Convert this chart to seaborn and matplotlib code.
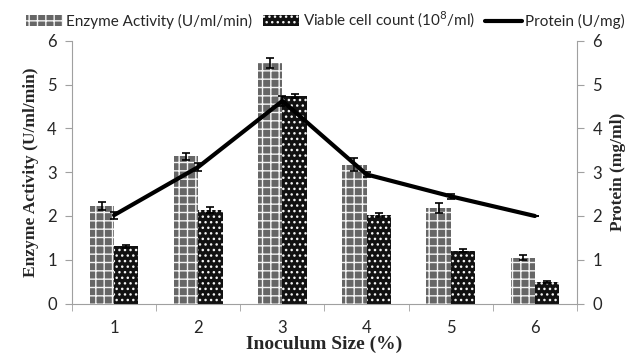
import numpy as np
import pandas as pd
import matplotlib
matplotlib.use("Agg")
import matplotlib.pyplot as plt
import seaborn as sns
from matplotlib.patches import Patch
from matplotlib.lines import Line2D

categories = ["1", "2", "3", "4", "5", "6"]
enzyme = [2.23, 3.36, 5.50, 3.17, 2.18, 1.05]
enzyme_err = [0.10, 0.08, 0.12, 0.15, 0.12, 0.05]
viable = [1.31, 2.14, 4.74, 2.02, 1.21, 0.49]
viable_err = [0.03, 0.06, 0.05, 0.05, 0.03, 0.03]
protein = [2.02, 3.12, 4.63, 2.95, 2.45, 2.00]
protein_err = [0.08, 0.10, 0.12, 0.06, 0.06, 0.0]

sns.set_style("white")
plt.rcParams['font.family'] = ['Lato', 'DejaVu Sans']
plt.rcParams['hatch.linewidth'] = 1.0

df = pd.DataFrame({
    "Inoculum": categories * 2,
    "value": enzyme + viable,
    "series": ["Enzyme"] * 6 + ["Viable"] * 6,
})

fig = plt.figure(figsize=(6.32, 3.56), dpi=100)
ax = fig.add_axes([72/632, 1 - 303.5/356, 505/632, 262.5/356])

colors = ["#666666", "#111111"]
hatches = ["++", "..."]

sns.barplot(data=df, x="Inoculum", y="value", hue="series", order=categories,
            hue_order=["Enzyme", "Viable"], palette=colors,
            width=0.58, gap=0, ax=ax, legend=False, errorbar=None,
            edgecolor="white", linewidth=0)

patches = [p for p in ax.patches]
for i, p in enumerate(patches[:12]):
    s = i // 6
    p.set_hatch(hatches[s])
    p.set_edgecolor("#f4f4f4")
    p.set_linewidth(0)

errs = enzyme_err + viable_err
vals = enzyme + viable
for i, p in enumerate(patches[:12]):
    cx = p.get_x() + p.get_width() / 2
    ax.errorbar(cx, vals[i], yerr=errs[i], color="black", capsize=3,
                elinewidth=1.2, capthick=1.2, zorder=5)

ax.set_ylim(0, 6)
ax.set_xlim(-0.5, 5.5)
ax.set_yticks(range(7))
ax.set_xticks(range(6))
ax.set_xticklabels(categories)
ax.set_xticks(np.arange(-0.5, 6, 1), minor=True)
ax.tick_params(axis="x", which="major", length=0, pad=12, labelsize=12)
ax.tick_params(axis="x", which="minor", length=5, color="#a0a0a0", direction="out", bottom=True)
ax.tick_params(axis="y", length=5, color="#a0a0a0", direction="out", left=True, labelsize=12, pad=6)
for side in ["top", "right"]:
    ax.spines[side].set_visible(False)
for side in ["left", "bottom"]:
    ax.spines[side].set_color("#a0a0a0")

ax.set_xlabel("Inoculum Size (%)", family="Liberation Serif", fontweight="bold", fontsize=14, labelpad=0)
ax.set_ylabel("Enzyme Activity (U/ml/min)", family="Liberation Serif", fontweight="bold", fontsize=12.5, labelpad=6)

ax2 = ax.twinx()
xpos = list(range(6))
sns.lineplot(x=xpos, y=protein, ax=ax2, color="black", linewidth=3)
ax2.errorbar(xpos, protein, yerr=protein_err, fmt="none", ecolor="black", capsize=3,
             elinewidth=1.2, capthick=1.2)
ax2.set_ylim(0, 6)
ax2.set_yticks(range(7))
ax2.tick_params(axis="y", length=5, color="#a0a0a0", direction="out", right=True, labelsize=12, pad=6)
for side in ["top", "left", "bottom"]:
    ax2.spines[side].set_visible(False)
ax2.spines["right"].set_color("#a0a0a0")
ax2.set_ylabel("Protein (mg/ml)", family="Liberation Serif", fontweight="bold", fontsize=12.5, labelpad=6)

handles = [
    Patch(facecolor=colors[0], edgecolor="#f4f4f4", hatch=hatches[0], linewidth=0),
    Patch(facecolor=colors[1], edgecolor="#f4f4f4", hatch=hatches[1], linewidth=0),
    Line2D([0], [0], color="black", linewidth=3),
]
labels = ["Enzyme Activity (U/ml/min)", "Viable cell count (10$^8$/ml)", "Protein (U/mg)"]
fig.legend(handles, labels, loc="upper center", bbox_to_anchor=(0.515, 1.0), ncol=3,
           frameon=False, fontsize=11, handlelength=2.4, handletextpad=0.2,
           columnspacing=0.7, borderaxespad=0.25)

fig.savefig("out.png", dpi=100)
